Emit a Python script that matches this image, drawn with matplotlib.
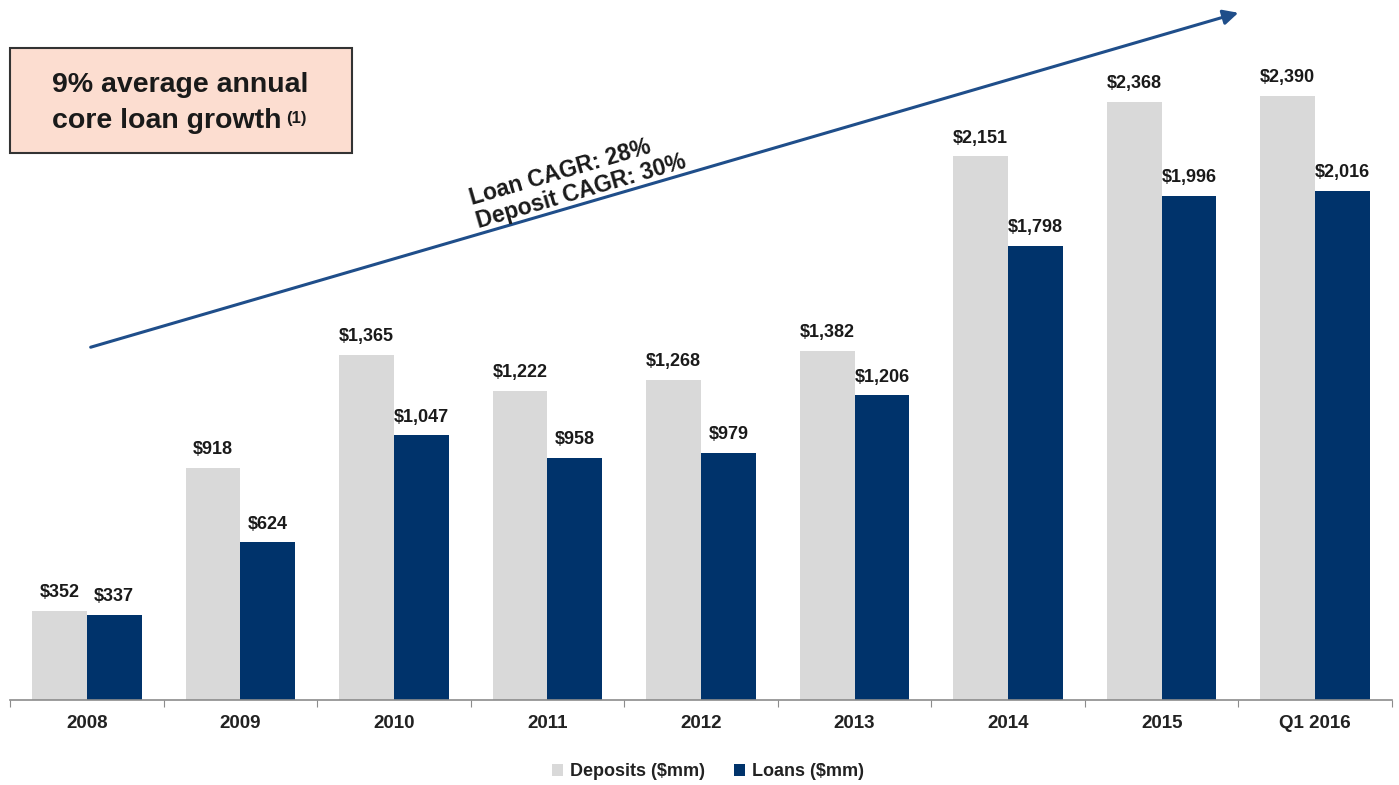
import matplotlib
matplotlib.use("Agg")
import matplotlib.pyplot as plt
import numpy as np
from matplotlib.patches import FancyArrowPatch, Rectangle

categories = ["2008", "2009", "2010", "2011", "2012", "2013", "2014", "2015", "Q1 2016"]
deposits = [352, 918, 1365, 1222, 1268, 1382, 2151, 2368, 2390]
loans = [337, 624, 1047, 958, 979, 1206, 1798, 1996, 2016]
series_names = ["Deposits ($mm)", "Loans ($mm)"]
annotation_text = "Loan CAGR: 28%\nDeposit CAGR: 30%"
box_line1 = "9% average annual"
box_line2 = "core loan growth"
box_note = "(1)"

plt.rcParams['font.family'] = ['Liberation Sans', 'DejaVu Sans']

W, H = 1399, 785
fig = plt.figure(figsize=(W / 100, H / 100), dpi=100)
ax_left, ax_right = 10, 1392
ax_bottom = 700
ymax = 2700
px_per_unit = 0.2527
ax_top = ax_bottom - ymax * px_per_unit
ax = fig.add_axes([ax_left / W, 1 - ax_bottom / H, (ax_right - ax_left) / W, (ax_bottom - ax_top) / H])

dep_color = "#D9D9D9"
loan_color = "#00336B"
x = np.arange(len(categories))
bw = 0.357
ax.bar(x - bw / 2, deposits, width=bw, color=dep_color, label=series_names[0])
ax.bar(x + bw / 2, loans, width=bw, color=loan_color, label=series_names[1])

for xi, d, l in zip(x, deposits, loans):
    ax.annotate(f"${d:,}", (xi - bw / 2, d), xytext=(0, 7), textcoords="offset points",
                ha="center", va="bottom", fontsize=13, fontweight="bold", color="#1a1a1a")
    ax.annotate(f"${l:,}", (xi + bw / 2, l), xytext=(0, 7), textcoords="offset points",
                ha="center", va="bottom", fontsize=13, fontweight="bold", color="#1a1a1a")

ax.set_xlim(-0.5, len(categories) - 0.5)
ax.set_ylim(0, ymax)
for s in ["top", "right", "left"]:
    ax.spines[s].set_visible(False)
ax.spines["bottom"].set_color("#8c8c8c")
ax.spines["bottom"].set_linewidth(1.2)
ax.set_yticks([])
ax.set_xticks(np.arange(-0.5, len(categories), 1.0))
ax.set_xticklabels([])
ax.tick_params(axis="x", which="major", length=5, color="#8c8c8c", direction="out")
ax.set_xticks(x, minor=True)
ax.set_xticklabels(categories, minor=True, fontsize=13.5, fontweight="bold", color="#222222")
ax.tick_params(axis="x", which="minor", length=0, pad=11)

leg = fig.legend(loc="center", bbox_to_anchor=(708 / W, 1 - 772 / H), ncol=2, frameon=False,
                 fontsize=13, handlelength=0.6, handleheight=0.6, handletextpad=0.4,
                 columnspacing=1.6)
for t in leg.get_texts():
    t.set_fontweight("bold")
    t.set_color("#222222")

# arrow in figure pixel coords
arrow = FancyArrowPatch((88 / W, 1 - 348 / H), (1241 / W, 1 - 12 / H), transform=fig.transFigure,
                        arrowstyle="-|>,head_length=9,head_width=4.5", color="#1F4E8A", lw=2.2,
                        mutation_scale=1)
fig.patches.append(arrow)
angle = np.degrees(np.arctan2((348 - 12) * 1.0, (1241 - 88) * 1.0))
fig.text(578 / W, 1 - 180 / H, annotation_text, rotation=angle, rotation_mode="anchor",
         ha="center", va="center", multialignment="left", fontsize=16.5, fontweight="bold",
         color="#1a1a1a", linespacing=1.1)

# text box
rect = Rectangle((10 / W, 1 - 153 / H), 342 / W, 105 / H, transform=fig.transFigure,
                 facecolor="#FCDDD0", edgecolor="#333333", lw=1.5)
fig.patches.append(rect)
fig.text(180 / W, 1 - 85 / H, box_line1, ha="center", va="center", fontsize=20.5,
         fontweight="bold", color="#1a1a1a")
fig.text(52 / W, 1 - 121 / H, box_line2, ha="left", va="center", fontsize=20.5,
         fontweight="bold", color="#1a1a1a")
fig.text(286 / W, 1 - 118 / H, box_note, ha="left", va="center", fontsize=12,
         fontweight="bold", color="#1a1a1a")

fig.savefig("out.png", dpi=100)
